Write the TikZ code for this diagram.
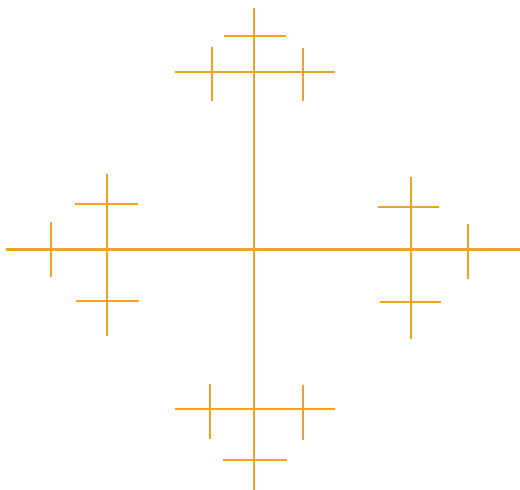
\documentclass[tikz,border=0pt]{standalone}
\usepackage{tikz}
\definecolor{treeor}{RGB}{242,162,28}
\tikzset{
  seg/.style={draw=treeor,line width=2.3pt},
}
\begin{document}
\begin{tikzpicture}[x=1pt,y=-1pt]
\useasboundingbox (0,0) rectangle (520,490);

% main cross
\draw[seg] (6,249.5)--(520,249.5);
\draw[seg] (254.3,7.5)--(254.3,490);

% top
\draw[seg] (175,72.3)--(335,72.3);
\draw[seg] (224.3,36)--(285.7,36);
\draw[seg] (211.7,46.7)--(211.7,100.7);
\draw[seg] (303.3,47.7)--(303.3,101);

% bottom
\draw[seg] (175,409)--(335,409);
\draw[seg] (223.3,460)--(286.7,460);
\draw[seg] (210,384)--(210,438.7);
\draw[seg] (303.3,385)--(303.3,439.7);

% left
\draw[seg] (106.7,174.3)--(106.7,335.7);
\draw[seg] (74.7,203.7)--(138,203.7);
\draw[seg] (75.7,301.3)--(139,301.3);
\draw[seg] (51,222.3)--(51,276.7);

% right
\draw[seg] (410.7,177.3)--(410.7,338.7);
\draw[seg] (377.7,206.7)--(439,206.7);
\draw[seg] (380.3,302)--(441.3,302);
\draw[seg] (468,224.3)--(468,278.7);
\end{tikzpicture}
\end{document}
